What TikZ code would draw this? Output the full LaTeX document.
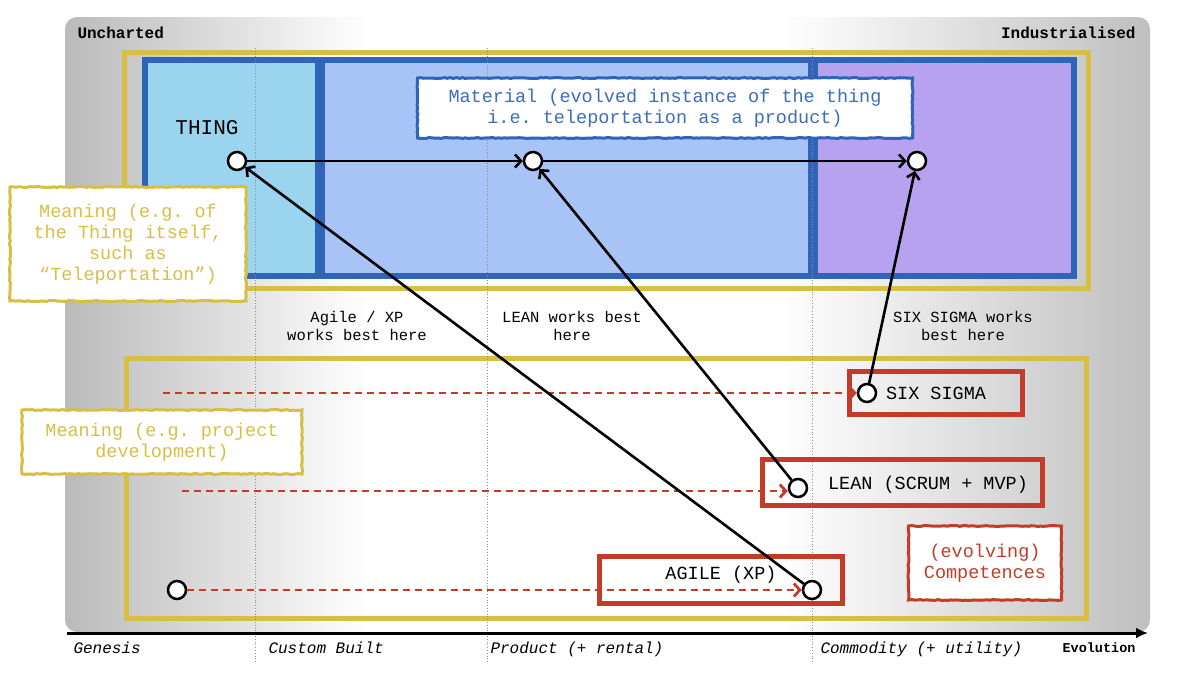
\documentclass[tikz,border=0pt]{standalone}
\usepackage{fontspec}
\setmonofont{Liberation Mono}
\usetikzlibrary{arrows.meta}
\usetikzlibrary{decorations.pathmorphing}
\definecolor{myyellow}{RGB}{217,190,70}
\definecolor{myblue}{RGB}{47,100,185}
\definecolor{mycyan}{RGB}{155,212,238}
\definecolor{mysky}{RGB}{168,196,246}
\definecolor{mypurple}{RGB}{182,162,238}
\definecolor{myred}{RGB}{195,60,40}
\definecolor{mytext}{RGB}{60,110,185}
% the visible part of a shading runs from 25bp to 75bp
\pgfdeclarehorizontalshading{bgshade}{100bp}{color(0bp)=(black!27); color(25bp)=(black!27); color(39bp)=(white); color(58bp)=(white); color(75bp)=(black!25); color(100bp)=(black!25)}
\newcommand{\mono}{\ttfamily\fontsize{18.5}{21}\selectfont}
\newcommand{\smallmono}{\ttfamily\fontsize{15.5}{18}\selectfont}

\begin{document}
\begin{tikzpicture}[x=1pt, y=-1pt,
  dot/.style={circle, draw=black, line width=2.5pt, fill=white, minimum size=18pt, inner sep=0pt},
  flow/.style={line width=2.6pt, -{Straight Barb[length=6pt,width=13pt]}},
  redflow/.style={draw=myred, line width=2.8pt, dash pattern=on 7pt off 5pt, -{Straight Barb[length=6pt,width=13pt]}},
  panel/.style={draw=myblue, line width=6pt},
  zone/.style={draw=myyellow, line width=5pt},
  rough/.style={decorate, decoration={random steps, segment length=3pt, amplitude=0.5pt}},
  note/.style={rough, fill=white, line width=3pt, align=center, inner sep=0pt},
  compbox/.style={draw=myred, line width=5pt, inner sep=0pt},
  ]
\useasboundingbox (0,0) rectangle (1200,675);

% background and zones
\shade[shading=bgshade, rounded corners=12pt] (65,17) rectangle (1150,632);
\draw[zone] (124,52) rectangle (1088,288);
\draw[zone] (126,358) rectangle (1086,618);

\fill[mycyan] (145,60) rectangle (318,276);
\fill[mysky] (322,60) rectangle (811,276);
\fill[mypurple] (815,60) rectangle (1074,276);
\draw[panel] (145,60) rectangle (318,276);
\draw[panel] (322,60) rectangle (811,276);
\draw[panel] (815,60) rectangle (1074,276);

\foreach \x in {255,487,812}
  \draw[black!45, dotted, line width=0.8pt] (\x,48) -- (\x,662);

\node[anchor=west, font=\ttfamily\bfseries\fontsize{16}{18}\selectfont] (uncharted) at (74,33) {Uncharted};
\node[anchor=east, font=\ttfamily\bfseries\fontsize{16}{18}\selectfont] (industrialised) at (1139,33) {Industrialised};

% evolution axis
\coordinate (axisstart) at (67,633);
\coordinate (axisend) at (1148,633);
\draw[line width=3pt, -{Latex[length=12pt,width=11pt]}] (axisstart) -- (axisend);
\node[anchor=base west, font=\ttfamily\itshape\fontsize{16}{18}\selectfont] (genesis) at (70,653) {Genesis};
\node[anchor=base west, font=\ttfamily\itshape\fontsize{16}{18}\selectfont] (custom) at (265,653) {Custom Built};
\node[anchor=base west, font=\ttfamily\itshape\fontsize{16}{18}\selectfont] (product) at (487,653) {Product (+ rental)};
\node[anchor=base west, font=\ttfamily\itshape\fontsize{16}{18}\selectfont] (commodity) at (817,653) {Commodity (+ utility)};
\node[anchor=base east, font=\ttfamily\bfseries\fontsize{13.5}{16}\selectfont] (evolution) at (1139,652) {Evolution};

% methods
\node[font=\smallmono, align=center] (agilehere) at (357,326) {Agile / XP\\works best here};
\node[font=\smallmono, align=center] (leanhere) at (572,326) {LEAN works best\\here};
\node[font=\smallmono, align=center] (sixhere) at (963,326) {SIX SIGMA works\\best here};

\node[font=\ttfamily\fontsize{21}{24}\selectfont] (thinglabel) at (207,128) {THING};

\node[note, draw=myblue, text=mytext, font=\mono, minimum width=495pt, minimum height=60pt] (material) at (665,108)
  {Material (evolved instance of the thing\\i.e. teleportation as a product)};
\node[note, draw=myyellow, text=myyellow, font=\mono, minimum width=236pt, minimum height=114pt] (meaningthing) at (128,244)
  {Meaning (e.g. of\\the Thing itself,\\such as\\“Teleportation”)};
\node[note, draw=myyellow, text=myyellow, font=\mono, minimum width=280pt, minimum height=64pt] (meaningproj) at (162,442)
  {Meaning (e.g. project\\development)};

% competences
\node[compbox, minimum width=173pt, minimum height=43pt] (sixbox) at (936,393) {};
\node[font=\mono] (sixlabel) at (936,393) {SIX SIGMA};
\node[compbox, minimum width=280pt, minimum height=46pt] (leanbox) at (902,482) {};
\node[font=\mono] (leanlabel) at (928,485) {LEAN (SCRUM + MVP)};
\node[compbox, minimum width=243pt, minimum height=47pt] (agilebox) at (721,580) {};
\node[font=\mono] (agilelabel) at (721,575) {AGILE (XP)};
\node[note, draw=myred, text=myred, font=\mono, minimum width=153pt, minimum height=74pt] (competences) at (985,563)
  {(evolving)\\Competences};

% points
\node[dot] (thing) at (237,161) {};
\node[dot] (mat) at (533,161) {};
\node[dot] (ind) at (917,161) {};
\node[dot] (six) at (867,393) {};
\node[dot] (lean) at (798,488) {};
\node[dot] (agile) at (812,590) {};
\node[dot] (origin) at (177,590) {};

\coordinate (sixfrom) at (163,393);
\coordinate (leanfrom) at (182,491);

\draw[redflow] (sixfrom) -- (six);
\draw[redflow] (leanfrom) -- (lean.west |- leanfrom);
\draw[redflow] (origin) -- (agile);

\draw[flow] (thing) -- (mat);
\draw[flow] (mat) -- (ind);
\draw[flow] (agile) -- (thing);
\draw[flow] (lean) -- (mat);
\draw[flow] (six) -- (ind);

\end{tikzpicture}
\end{document}
